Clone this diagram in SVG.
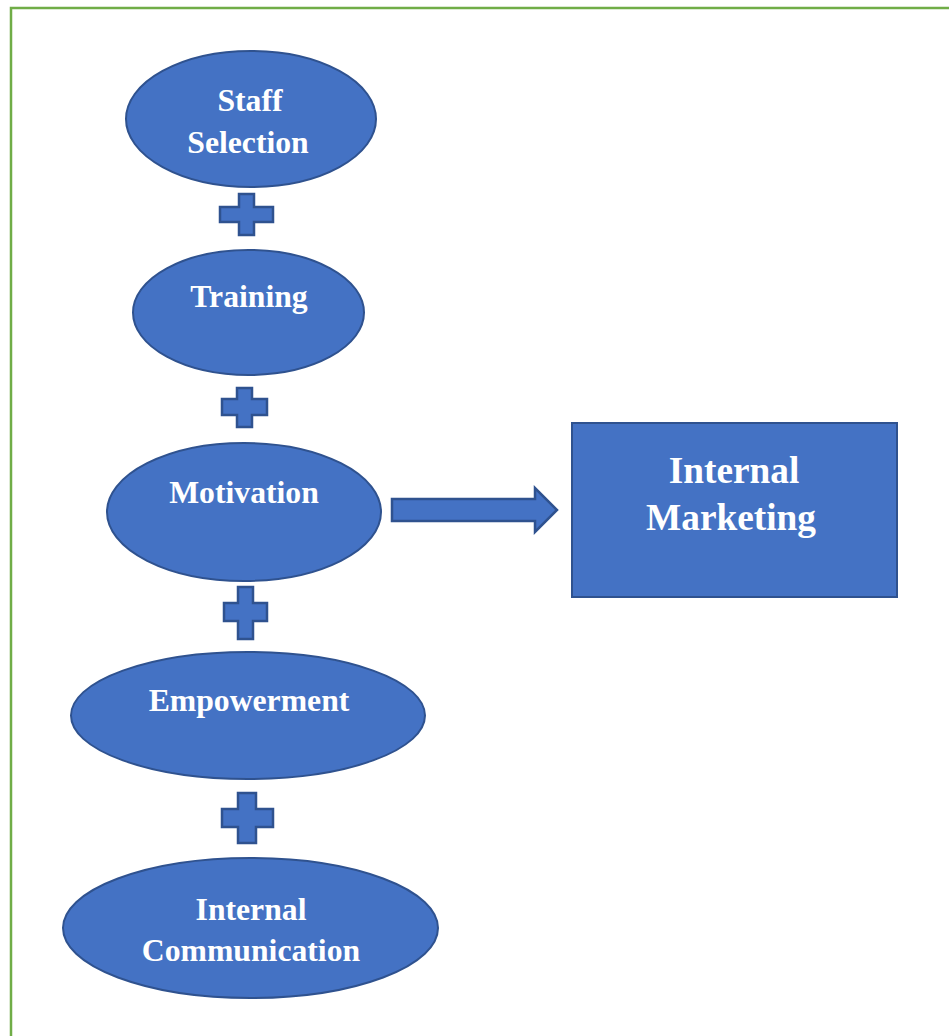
<svg xmlns="http://www.w3.org/2000/svg" width="949" height="1036" viewBox="0 0 949 1036">
<style>
.shape{fill:#4472C4;stroke:#2F528F;stroke-width:2}
.plus{fill:#4472C4;stroke:#2F528F;stroke-width:2.5}
.lbl{font-family:"Liberation Serif","Times New Roman",serif;font-weight:bold;fill:#FFFFFF;text-anchor:middle}
.s30{font-size:31.7px}
.s36{font-size:37.3px}
</style>
<rect x="0" y="0" width="949" height="1036" fill="#FFFFFF"/>
<rect x="11" y="8" width="960" height="1060" fill="none" stroke="#70AD47" stroke-width="2.5"/>
<g id="node-staff-selection">
<ellipse class="shape" cx="251" cy="119" rx="125" ry="68"/>
<text class="lbl s30" x="250" y="111">Staff</text>
<text class="lbl s30" x="248" y="153">Selection</text>
</g>
<g id="node-training">
<ellipse class="shape" cx="248.5" cy="312.5" rx="115.5" ry="62.5"/>
<text class="lbl s30" x="249" y="307">Training</text>
</g>
<g id="node-motivation">
<ellipse class="shape" cx="244" cy="512" rx="137" ry="69"/>
<text class="lbl s30" x="244" y="503">Motivation</text>
</g>
<g id="node-empowerment">
<ellipse class="shape" cx="248" cy="715.5" rx="177" ry="63.5"/>
<text class="lbl s30" x="249" y="711">Empowerment</text>
</g>
<g id="node-internal-communication">
<ellipse class="shape" cx="250.5" cy="928" rx="187.5" ry="70"/>
<text class="lbl s30" x="251" y="920">Internal</text>
<text class="lbl s30" x="251" y="961">Communication</text>
</g>
<g id="node-internal-marketing">
<rect class="shape" x="572" y="423" width="325" height="174"/>
<text class="lbl s36" x="734" y="483">Internal</text>
<text class="lbl s36" x="731" y="530">Marketing</text>
</g>
<g id="connectors">
<polygon class="plus" points="239,194 254,194 254,207 273,207 273,222 254,222 254,235 239,235 239,222 220,222 220,207 239,207"/>
<polygon class="plus" points="237,388 252,388 252,399 267,399 267,415 252,415 252,427 237,427 237,415 222,415 222,399 237,399"/>
<polygon class="plus" points="238,587 253,587 253,603 267,603 267,621 253,621 253,639 238,639 238,621 224,621 224,603 238,603"/>
<polygon class="plus" points="238,793 256,793 256,809 273,809 273,827 256,827 256,843 238,843 238,827 222,827 222,809 238,809"/>
<polygon class="plus" points="392,499 535,499 535,488 557,510 535,532 535,521 392,521"/>
</g>
</svg>
